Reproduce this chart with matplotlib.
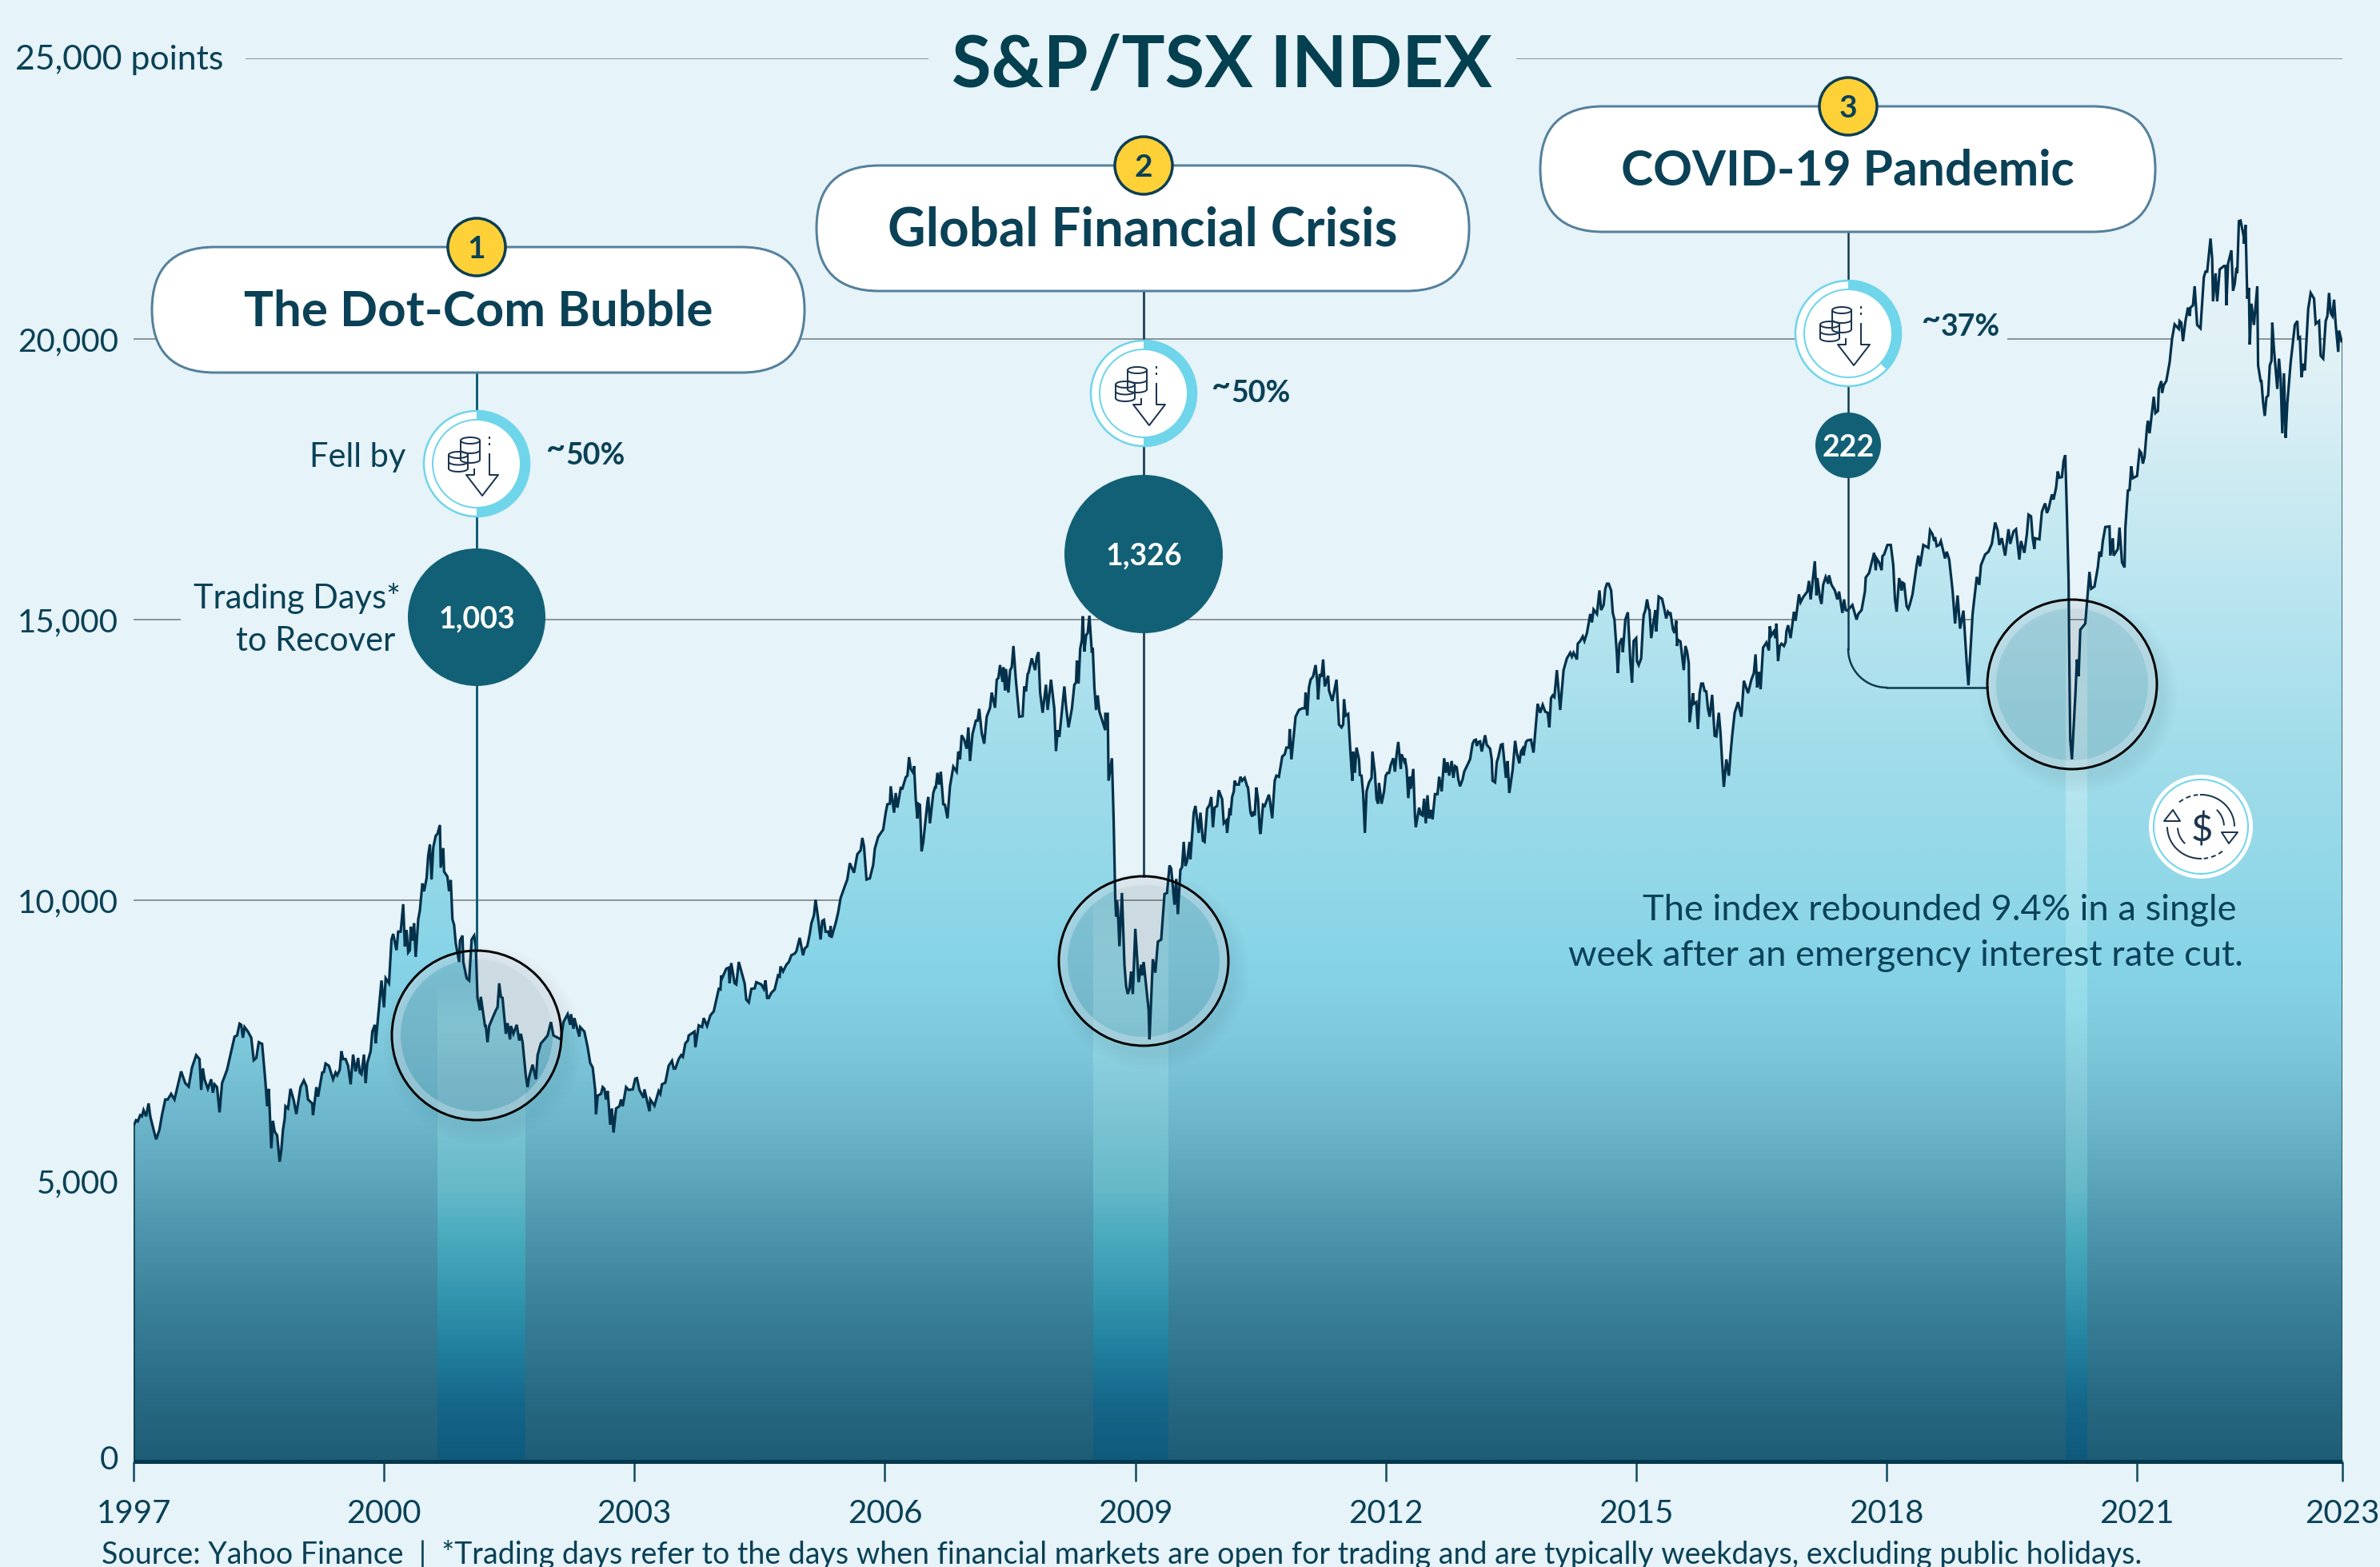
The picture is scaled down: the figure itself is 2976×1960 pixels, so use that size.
"""S&P/TSX index infographic: three crashes and their recovery times."""
import numpy as np
import matplotlib
matplotlib.use("Agg")
import matplotlib.pyplot as plt
from matplotlib.colors import LinearSegmentedColormap, to_rgb
from matplotlib.patches import Circle, FancyBboxPatch, Polygon, Wedge
from matplotlib.transforms import Affine2D, ScaledTranslation

W, H = 2976, 1960
BG = "#e6f3f9"
INK = "#0a4156"
TEAL = "#126075"
CYAN = "#6fd5ea"
NAVY = "#1c3550"

plt.rcParams["font.family"] = ["Lato", "DejaVu Sans"]

# (year, index level)
run_1997_2001 = [
    (1997.00, 5980), (1997.03, 6080), (1997.05, 6060), (1997.08, 6170), (1997.10, 6150), (1997.12, 6260),
    (1997.15, 6150), (1997.18, 6380), (1997.20, 6150), (1997.24, 5910), (1997.27, 5740), (1997.31, 5910),
    (1997.34, 6170), (1997.38, 6450), (1997.41, 6450), (1997.45, 6550), (1997.49, 6450), (1997.52, 6640),
    (1997.57, 6950), (1997.62, 6740), (1997.66, 6680), (1997.70, 7020), (1997.75, 7240), (1997.79, 7170),
    (1997.81, 6620), (1997.83, 7000), (1997.85, 6810), (1997.89, 6640), (1997.93, 6810), (1997.95, 6570),
    (1997.97, 6720), (1998.00, 6670), (1998.03, 6220), (1998.06, 6740), (1998.12, 6980), (1998.16, 7240),
    (1998.21, 7570), (1998.24, 7590), (1998.27, 7800), (1998.29, 7780), (1998.31, 7550), (1998.33, 7740),
    (1998.37, 7660), (1998.41, 7550), (1998.44, 7150), (1998.47, 7190), (1998.50, 7470), (1998.54, 7440),
    (1998.58, 6760), (1998.60, 6330), (1998.62, 6640), (1998.65, 5580), (1998.67, 6070), (1998.69, 5880),
    (1998.72, 5810), (1998.75, 5340), (1998.77, 5550), (1998.79, 5910), (1998.81, 6100), (1998.82, 6330),
    (1998.85, 6290), (1998.88, 6640), (1998.92, 6430), (1998.95, 6190), (1998.98, 6480), (1999.00, 6670),
    (1999.04, 6790), (1999.07, 6690), (1999.09, 6450), (1999.14, 6380), (1999.15, 6170), (1999.19, 6670),
    (1999.21, 6500), (1999.26, 6930), (1999.28, 6940), (1999.30, 7090), (1999.34, 7050), (1999.39, 6810),
    (1999.42, 6930), (1999.44, 6880), (1999.47, 6980), (1999.49, 7310), (1999.51, 7170), (1999.54, 7170),
    (1999.57, 7050), (1999.60, 6720), (1999.63, 7250), (1999.66, 6950), (1999.69, 7190), (1999.71, 6930),
    (1999.73, 6900), (1999.76, 7250), (1999.78, 6740), (1999.80, 7100), (1999.84, 7310), (1999.86, 7660),
    (1999.89, 7780), (1999.90, 7450), (1999.93, 7930), (1999.95, 8260), (1999.97, 8570), (2000.00, 8090),
    (2000.02, 8610), (2000.06, 8520), (2000.09, 9300), (2000.11, 9400), (2000.15, 9110), (2000.17, 9440),
    (2000.20, 9440), (2000.23, 9930), (2000.25, 9180), (2000.27, 9470), (2000.29, 9070), (2000.31, 9110),
    (2000.32, 9530), (2000.34, 9280), (2000.36, 9590), (2000.38, 8990), (2000.41, 9660), (2000.43, 9820),
    (2000.46, 10300), (2000.48, 10160), (2000.51, 10390), (2000.53, 10800), (2000.55, 10990), (2000.57, 10370),
    (2000.59, 10940), (2000.62, 11150), (2000.64, 11180), (2000.67, 11340), (2000.68, 10580), (2000.71, 10930),
    (2000.72, 10510), (2000.76, 10420), (2000.78, 10160), (2000.80, 10360), (2000.82, 9660), (2000.84, 9560),
    (2000.86, 9230), (2000.90, 8900), (2000.91, 9280), (2000.94, 9370), (2000.95, 8900), (2000.99, 8610),
    (2001.02, 8570), (2001.05, 9300), (2001.08, 9370), (2001.10, 9180), (2001.12, 8260), (2001.15, 8040),
    (2001.16, 8280), (2001.21, 7760), (2001.22, 7760), (2001.24, 7470), (2001.26, 7760), (2001.34, 8040),
    (2001.36, 8090), (2001.38, 8520), (2001.40, 8280), (2001.42, 8260), (2001.46, 7620), (2001.48, 7810),
    (2001.51, 7520), (2001.52, 7760), (2001.55, 7620), (2001.59, 7780), (2001.62, 7500), (2001.64, 7620),
    (2001.66, 7470), (2001.70, 6860), (2001.72, 6670), (2001.74, 6860), (2001.78, 7070), (2001.82, 6810),
    (2001.84, 7240), (2001.88, 7450), (2001.91, 7500),
]
run_2002_2005 = [
    (2001.96, 7590), (2002.00, 7830), (2002.03, 7590), (2002.12, 7520), (2002.15, 7830), (2002.20, 7970),
    (2002.23, 7780), (2002.24, 7970), (2002.27, 7710), (2002.28, 7900), (2002.34, 7570), (2002.35, 7740),
    (2002.40, 7660), (2002.44, 7380), (2002.47, 7100), (2002.50, 7020), (2002.53, 6620), (2002.54, 6190),
    (2002.56, 6520), (2002.60, 6550), (2002.62, 6670), (2002.64, 6640), (2002.66, 6450), (2002.68, 6600),
    (2002.71, 6000), (2002.73, 6290), (2002.75, 5860), (2002.78, 6290), (2002.82, 6330), (2002.84, 6450),
    (2002.86, 6330), (2002.90, 6670), (2002.93, 6620), (2002.98, 6630), (2003.01, 6820), (2003.03, 6830),
    (2003.06, 6620), (2003.11, 6480), (2003.12, 6630), (2003.18, 6240), (2003.19, 6450), (2003.24, 6340),
    (2003.29, 6600), (2003.31, 6550), (2003.33, 6720), (2003.37, 6750), (2003.41, 7050), (2003.45, 7140),
    (2003.47, 7000), (2003.49, 7000), (2003.53, 7170), (2003.56, 7240), (2003.58, 7210), (2003.61, 7450),
    (2003.64, 7500), (2003.65, 7590), (2003.72, 7660), (2003.73, 7380), (2003.77, 7770), (2003.81, 7740),
    (2003.83, 7900), (2003.87, 7760), (2003.91, 7950), (2003.95, 8020), (2004.00, 8350), (2004.01, 8420),
    (2004.03, 8410), (2004.04, 8660), (2004.05, 8610), (2004.10, 8780), (2004.13, 8800), (2004.14, 8520),
    (2004.16, 8880), (2004.20, 8520), (2004.22, 8500), (2004.25, 8900), (2004.32, 8520), (2004.34, 8230),
    (2004.37, 8180), (2004.40, 8420), (2004.44, 8430), (2004.46, 8540), (2004.52, 8500), (2004.55, 8420),
    (2004.57, 8570), (2004.59, 8260), (2004.61, 8260), (2004.64, 8350), (2004.68, 8410), (2004.72, 8660),
    (2004.74, 8640), (2004.75, 8820), (2004.78, 8730), (2004.82, 8850), (2004.85, 8900), (2004.88, 9020),
    (2004.92, 9050), (2004.94, 9090), (2004.98, 9330), (2005.02, 9020), (2005.04, 9140), (2005.07, 9180),
    (2005.10, 9400), (2005.12, 9590), (2005.15, 9730), (2005.17, 10010), (2005.20, 9680), (2005.23, 9300),
    (2005.25, 9630), (2005.27, 9650), (2005.29, 9440), (2005.32, 9440), (2005.34, 9350), (2005.35, 9540),
    (2005.36, 9330), (2005.41, 9590), (2005.44, 9780), (2005.47, 10040), (2005.52, 10250), (2005.55, 10370),
    (2005.58, 10660), (2005.63, 10490), (2005.67, 10820), (2005.71, 10890), (2005.73, 11110), (2005.75, 10960),
    (2005.78, 10370), (2005.82, 10390), (2005.86, 10630), (2005.88, 10920), (2005.92, 11130), (2005.98, 11260),
]
run_2006_2009 = [
    (2006.01, 11560), (2006.03, 11710), (2006.06, 11720), (2006.07, 12030), (2006.11, 11560), (2006.13, 11910),
    (2006.15, 11650), (2006.19, 12000), (2006.21, 11990), (2006.25, 12190), (2006.27, 12220), (2006.29, 12550),
    (2006.31, 12340), (2006.34, 12270), (2006.35, 12390), (2006.37, 11800), (2006.39, 11460), (2006.40, 11720),
    (2006.42, 11700), (2006.44, 10870), (2006.46, 11040), (2006.51, 11750), (2006.52, 11840), (2006.54, 11370),
    (2006.58, 11910), (2006.60, 12010), (2006.61, 12010), (2006.63, 12270), (2006.65, 12060), (2006.67, 12290),
    (2006.70, 11710), (2006.72, 11700), (2006.75, 11460), (2006.78, 12030), (2006.82, 12380), (2006.86, 12290),
    (2006.88, 12650), (2006.90, 12510), (2006.92, 12940), (2006.95, 12860), (2006.98, 12700), (2007.00, 13080),
    (2007.02, 12480), (2007.05, 12960), (2007.09, 13200), (2007.11, 13200), (2007.13, 13410), (2007.16, 12980),
    (2007.19, 12790), (2007.22, 13270), (2007.26, 13430), (2007.28, 13700), (2007.32, 13430), (2007.34, 13930),
    (2007.36, 13960), (2007.38, 14190), (2007.41, 13890), (2007.42, 14150), (2007.44, 13740), (2007.45, 14120),
    (2007.48, 13700), (2007.50, 14100), (2007.52, 14150), (2007.54, 14530), (2007.57, 13910), (2007.61, 13270),
    (2007.65, 13280), (2007.67, 13810), (2007.69, 13720), (2007.71, 14030), (2007.72, 14050), (2007.76, 14310),
    (2007.80, 14100), (2007.82, 14340), (2007.84, 14420), (2007.86, 13700), (2007.89, 13340), (2007.93, 13840),
    (2007.95, 13390), (2007.99, 13930), (2008.03, 13410), (2008.05, 12660), (2008.07, 13030), (2008.09, 12910),
    (2008.15, 13810), (2008.17, 13460), (2008.20, 13080), (2008.24, 13410), (2008.27, 13840), (2008.29, 13880),
    (2008.30, 14270), (2008.32, 13860), (2008.34, 14480), (2008.36, 14640), (2008.37, 15060), (2008.39, 14430),
    (2008.41, 14720), (2008.43, 14760), (2008.45, 15070), (2008.48, 14410), (2008.49, 14500), (2008.51, 13790),
    (2008.53, 13390), (2008.55, 13650), (2008.57, 13360), (2008.64, 13030), (2008.64, 13320), (2008.67, 13320),
    (2008.68, 12130), (2008.72, 12530), (2008.74, 11460), (2008.76, 10040), (2008.77, 9710), (2008.78, 9990),
    (2008.79, 9850), (2008.81, 9180), (2008.84, 10130), (2008.87, 8850), (2008.89, 8470), (2008.91, 8330),
    (2008.93, 8420), (2008.95, 8730), (2008.97, 8330), (2009.00, 9490), (2009.04, 8540), (2009.07, 8850),
    (2009.08, 8660), (2009.10, 8900), (2009.13, 8470), (2009.16, 8040), (2009.17, 7520), (2009.21, 8950),
    (2009.24, 8710), (2009.27, 9260), (2009.31, 9300), (2009.35, 10110), (2009.38, 10130), (2009.41, 10620),
    (2009.43, 10560), (2009.47, 9920), (2009.49, 10380), (2009.51, 9750), (2009.54, 10540), (2009.56, 10590),
    (2009.58, 11040), (2009.60, 10610), (2009.62, 10700), (2009.65, 11040), (2009.66, 10730), (2009.70, 11560),
    (2009.72, 11680), (2009.76, 11200), (2009.78, 11560), (2009.81, 11060), (2009.83, 11040), (2009.86, 11630),
    (2009.89, 11700), (2009.91, 11840), (2009.93, 11300), (2009.95, 11650),
]
run_2010_2014 = [
    (2009.98, 11680), (2010.00, 11960), (2010.04, 11800), (2010.06, 11370), (2010.09, 11420), (2010.10, 11200),
    (2010.13, 11640), (2010.14, 11510), (2010.16, 11840), (2010.18, 11940), (2010.19, 12130), (2010.21, 12060),
    (2010.24, 12060), (2010.26, 12200), (2010.28, 12130), (2010.31, 12180), (2010.34, 12030), (2010.35, 12010),
    (2010.38, 11560), (2010.40, 11490), (2010.41, 11580), (2010.43, 11510), (2010.45, 12010), (2010.47, 11800),
    (2010.49, 11270), (2010.50, 11180), (2010.53, 11700), (2010.55, 11680), (2010.60, 11880), (2010.61, 11800),
    (2010.64, 11460), (2010.67, 12130), (2010.69, 12220), (2010.72, 12200), (2010.76, 12560), (2010.79, 12600),
    (2010.81, 12720), (2010.84, 12720), (2010.85, 13050), (2010.87, 12510), (2010.92, 13270), (2010.96, 13390),
    (2011.00, 13420), (2011.03, 13420), (2011.04, 13700), (2011.06, 13290), (2011.08, 13790), (2011.10, 13930),
    (2011.13, 13990), (2011.16, 14190), (2011.18, 13880), (2011.19, 13580), (2011.21, 14030), (2011.23, 13980),
    (2011.25, 14290), (2011.27, 13810), (2011.31, 14000), (2011.32, 13740), (2011.36, 13550), (2011.41, 13930),
    (2011.44, 13130), (2011.47, 13080), (2011.49, 13130), (2011.50, 13580), (2011.52, 13290), (2011.55, 13320),
    (2011.58, 12560), (2011.60, 12130), (2011.61, 12650), (2011.63, 12270), (2011.65, 12720), (2011.68, 12510),
    (2011.69, 12230), (2011.71, 12220), (2011.73, 11890), (2011.75, 11200), (2011.77, 11940), (2011.80, 12100),
    (2011.83, 12180), (2011.84, 12650), (2011.87, 12270), (2011.89, 11800), (2011.91, 11720), (2011.92, 12090),
    (2011.95, 11720), (2011.98, 11940), (2012.00, 12220), (2012.02, 12270), (2012.04, 12270), (2012.06, 12410),
    (2012.09, 12530), (2012.11, 12290), (2012.13, 12600), (2012.15, 12820), (2012.18, 12340), (2012.19, 12600),
    (2012.22, 12480), (2012.23, 12530), (2012.25, 12340), (2012.27, 11820), (2012.29, 12200), (2012.30, 11990),
    (2012.33, 12340), (2012.35, 11510), (2012.36, 11300), (2012.40, 11650), (2012.42, 11530), (2012.44, 11510),
    (2012.46, 11810), (2012.48, 11370), (2012.50, 11870), (2012.52, 11460), (2012.54, 11610), (2012.56, 11440),
    (2012.59, 11890), (2012.62, 11890), (2012.64, 12200), (2012.67, 11940), (2012.70, 12530), (2012.72, 12270),
    (2012.74, 12460), (2012.76, 12220), (2012.79, 12480), (2012.81, 12180), (2012.83, 12390), (2012.85, 12370),
    (2012.87, 12150), (2012.89, 12030), (2012.92, 12150), (2012.94, 12290), (2013.01, 12510), (2013.04, 12790),
    (2013.06, 12850), (2013.08, 12860), (2013.09, 12750), (2013.11, 12820), (2013.13, 12830), (2013.15, 12650),
    (2013.19, 12940), (2013.21, 12770), (2013.25, 12700), (2013.27, 12510), (2013.28, 12130), (2013.31, 12100),
    (2013.33, 12460), (2013.35, 12560), (2013.38, 12770), (2013.40, 12780), (2013.44, 12180), (2013.46, 12480),
    (2013.48, 11910), (2013.52, 12320), (2013.55, 12840), (2013.57, 12630), (2013.60, 12440), (2013.62, 12650),
    (2013.64, 12700), (2013.65, 12580), (2013.68, 12820), (2013.70, 12850), (2013.74, 12860), (2013.77, 12630),
    (2013.82, 13500), (2013.85, 13340), (2013.88, 13480), (2013.91, 13360), (2013.94, 13340), (2013.96, 13080),
    (2013.98, 13600), (2014.00, 13650), (2014.02, 13620), (2014.05, 14100), (2014.09, 13390), (2014.13, 14100),
    (2014.17, 14310),
]
run_2014_2018 = [
    (2014.21, 14410), (2014.23, 14340), (2014.25, 14410), (2014.29, 14290), (2014.30, 14570), (2014.33, 14620),
    (2014.36, 14700), (2014.38, 14620), (2014.41, 14760), (2014.45, 15100), (2014.47, 14950), (2014.49, 15180),
    (2014.53, 15100), (2014.56, 15520), (2014.58, 15170), (2014.61, 15260), (2014.63, 15550), (2014.65, 15640),
    (2014.67, 15640), (2014.70, 15520), (2014.72, 15120), (2014.74, 15000), (2014.77, 14360), (2014.78, 14050),
    (2014.80, 14570), (2014.83, 14670), (2014.84, 14420), (2014.87, 15000), (2014.90, 15130), (2014.93, 14260),
    (2014.95, 13880), (2014.97, 14620), (2015.00, 14670), (2015.01, 14260), (2015.03, 14190), (2015.06, 14310),
    (2015.08, 14880), (2015.09, 15080), (2015.11, 15170), (2015.13, 15360), (2015.15, 15190), (2015.16, 15170),
    (2015.18, 14670), (2015.21, 14980), (2015.23, 15170), (2015.24, 14790), (2015.27, 15410), (2015.31, 15370),
    (2015.34, 15170), (2015.36, 15020), (2015.38, 15140), (2015.40, 15100), (2015.41, 15130), (2015.44, 14830),
    (2015.46, 14760), (2015.48, 14980), (2015.49, 14530), (2015.50, 14640), (2015.53, 14610), (2015.57, 14100),
    (2015.59, 14530), (2015.61, 14430), (2015.63, 14220), (2015.64, 13170), (2015.68, 13690), (2015.69, 13500),
    (2015.72, 13530), (2015.74, 13050), (2015.76, 13690), (2015.78, 13860), (2015.80, 13860), (2015.82, 13730),
    (2015.84, 13720), (2015.86, 13410), (2015.88, 13270), (2015.91, 13660), (2015.94, 12930), (2015.96, 12920),
    (2015.99, 13340), (2016.01, 12980), (2016.03, 12460), (2016.05, 12020), (2016.08, 12510), (2016.11, 12220),
    (2016.13, 12600), (2016.15, 12930), (2016.18, 13340), (2016.22, 13530), (2016.26, 13270), (2016.29, 13910),
    (2016.34, 13690), (2016.38, 13930), (2016.41, 14050), (2016.43, 14380), (2016.45, 13790), (2016.47, 14070),
    (2016.49, 13760), (2016.52, 14500), (2016.56, 14590), (2016.59, 14450), (2016.60, 14880), (2016.62, 14720),
    (2016.65, 14790), (2016.67, 14670), (2016.68, 14930), (2016.70, 14260), (2016.72, 14530), (2016.74, 14570),
    (2016.77, 14530), (2016.79, 14600), (2016.80, 14790), (2016.82, 14900), (2016.85, 14670), (2016.89, 15140),
    (2016.91, 14980), (2016.95, 15450), (2016.97, 15310), (2017.00, 15400), (2017.05, 15500), (2017.07, 15690),
    (2017.09, 15360), (2017.14, 16040), (2017.16, 15430), (2017.17, 15740), (2017.20, 15400), (2017.22, 15280),
    (2017.24, 15620), (2017.27, 15760), (2017.30, 15640), (2017.31, 15790), (2017.34, 15620), (2017.38, 15520),
    (2017.41, 15360), (2017.43, 15500), (2017.47, 15120), (2017.49, 15360), (2017.51, 15170), (2017.53, 15160),
    (2017.59, 15260), (2017.64, 15000), (2017.66, 15100), (2017.70, 15170), (2017.74, 15500), (2017.75, 15750),
    (2017.79, 15830), (2017.85, 16190), (2017.87, 15880), (2017.88, 16090), (2017.91, 16020), (2017.94, 15880),
    (2017.95, 16130), (2017.97, 16160), (2018.01, 16330), (2018.05, 16330), (2018.08, 15970), (2018.10, 15360),
    (2018.12, 15140), (2018.15, 15740), (2018.18, 15520), (2018.19, 15660), (2018.21, 15640), (2018.24, 15240),
    (2018.26, 15190), (2018.28, 15280), (2018.31, 15450), (2018.36, 15970), (2018.38, 16140),
]
run_2018_2023 = [
    (2018.40, 15950), (2018.44, 16330), (2018.50, 16280), (2018.52, 16590), (2018.55, 16520), (2018.57, 16400),
    (2018.58, 16470), (2018.60, 16310), (2018.63, 16330), (2018.65, 16400), (2018.70, 16090), (2018.72, 16210),
    (2018.75, 16070), (2018.79, 15520), (2018.82, 14930), (2018.85, 15430), (2018.88, 14840), (2018.92, 15160),
    (2018.96, 14220), (2018.98, 13830), (2019.03, 15100), (2019.08, 15760), (2019.11, 15620), (2019.13, 15970),
    (2019.18, 16160), (2019.22, 16210), (2019.26, 16350), (2019.30, 16730), (2019.33, 16590), (2019.35, 16330),
    (2019.38, 16450), (2019.42, 16140), (2019.46, 16610), (2019.48, 16350), (2019.52, 16570), (2019.55, 16610),
    (2019.59, 16070), (2019.61, 16400), (2019.65, 16190), (2019.68, 16520), (2019.70, 16870), (2019.73, 16840),
    (2019.75, 16450), (2019.77, 16260), (2019.78, 16450), (2019.83, 16430), (2019.86, 16920), (2019.89, 17040),
    (2019.90, 17070), (2019.92, 16900), (2019.94, 16970), (2019.98, 17230), (2020.00, 17140), (2020.03, 17350),
    (2020.05, 17640), (2020.07, 17530), (2020.10, 17540), (2020.12, 17830), (2020.14, 17930), (2020.16, 16880),
    (2020.18, 15680), (2020.19, 14070), (2020.20, 12860), (2020.22, 12510), (2020.26, 13630), (2020.28, 14290),
    (2020.30, 13990), (2020.32, 14820), (2020.38, 14930), (2020.43, 15850), (2020.45, 15550), (2020.49, 15590),
    (2020.53, 15930), (2020.55, 16210), (2020.57, 16120), (2020.59, 16400), (2020.62, 16650), (2020.67, 16660),
    (2020.68, 16140), (2020.71, 16450), (2020.72, 16140), (2020.77, 16260), (2020.79, 16640), (2020.82, 16020),
    (2020.85, 15930), (2020.86, 16640), (2020.89, 17300), (2020.91, 17310), (2020.93, 17730), (2020.95, 17520),
    (2021.00, 17560), (2021.03, 18010), (2021.05, 17970), (2021.07, 17780), (2021.09, 17900), (2021.12, 18440),
    (2021.13, 18540), (2021.15, 18320), (2021.20, 18970), (2021.22, 18680), (2021.25, 18720), (2021.26, 19110),
    (2021.29, 19250), (2021.30, 19040), (2021.32, 19180), (2021.35, 19250), (2021.39, 19580), (2021.42, 20010),
    (2021.45, 20260), (2021.50, 20180), (2021.51, 20320), (2021.53, 20290), (2021.55, 19960), (2021.58, 20320),
    (2021.61, 20560), (2021.63, 20410), (2021.64, 20560), (2021.67, 20600), (2021.69, 20940), (2021.72, 20250),
    (2021.76, 20190), (2021.80, 21100), (2021.82, 21200), (2021.84, 21200), (2021.88, 21790), (2021.90, 21430),
    (2021.91, 20670), (2021.94, 21170), (2021.96, 20670), (2021.99, 21240), (2022.04, 21300), (2022.06, 21300),
    (2022.07, 20600), (2022.09, 21340), (2022.13, 21580), (2022.15, 20860), (2022.17, 20980), (2022.19, 21270),
    (2022.20, 21170), (2022.22, 22100), (2022.24, 22110), (2022.28, 21810), (2022.28, 21700), (2022.30, 22030),
    (2022.32, 20720), (2022.34, 20910), (2022.35, 19900), (2022.37, 20630), (2022.40, 20250), (2022.44, 20940),
    (2022.45, 19530), (2022.48, 19250), (2022.49, 19250), (2022.51, 18870), (2022.53, 18630), (2022.55, 18960),
    (2022.57, 18990), (2022.59, 19530), (2022.61, 19610), (2022.62, 20290), (2022.64, 19820), (2022.68, 19110),
    (2022.70, 19650), (2022.72, 19300), (2022.74, 18320), (2022.76, 19390), (2022.78, 18240), (2022.80, 18850),
    (2022.84, 19580), (2022.89, 20250), (2022.92, 20320), (2022.93, 20010), (2022.95, 20030), (2022.97, 19320),
    (2022.99, 19560), (2023.01, 19440), (2023.05, 20530), (2023.08, 20820), (2023.12, 20720), (2023.14, 20270),
    (2023.18, 20320), (2023.20, 19700), (2023.23, 19650), (2023.26, 20320), (2023.28, 20410), (2023.30, 20820),
    (2023.32, 20460), (2023.34, 20410), (2023.36, 20700), (2023.38, 20250), (2023.41, 19770), (2023.42, 20150),
    (2023.45, 19960),
]
points = run_1997_2001 + run_2002_2005 + run_2006_2009 + run_2010_2014 + run_2014_2018 + run_2018_2023
years = [p[0] for p in points]
levels = [p[1] for p in points]

x_end = 2023.46
year_ticks = [1997, 2000, 2003, 2006, 2009, 2012, 2015, 2018, 2021, x_end]
year_labels = ["1997", "2000", "2003", "2006", "2009", "2012", "2015", "2018", "2021", "2023"]
level_ticks = [0, 5000, 10000, 15000, 20000]
level_labels = ["0", "5,000", "10,000", "15,000", "20,000"]

# crash windows (start year, end year, level where the strip fades out)
crash_bands = [(2000.64, 2001.69, 8600), (2008.50, 2009.40, 10400), (2020.15, 2020.40, 15400)]

# gridline pieces, broken where a label sits
grid_pieces = [
    (25000, [(1998.34, 2006.52), (2013.56, x_end)]),
    (20000, [(1997, 2018.10), (2019.45, x_end)]),
    (15000, [(1997, 1997.57), (2001.11, x_end)]),
    (10000, [(1997, x_end)]),
    (5000, [(1997, x_end)]),
]

area_stops = [(0, "#1e5d75"), (1500, "#2c6f88"), (3000, "#3e849d"), (4700, "#57a0b6"), (6000, "#6cb5ca"),
              (7500, "#7fc9dd"), (8800, "#86d3e7"), (10000, "#8fd7e8"), (12500, "#a0dcea"), (15000, "#b5e4ef"),
              (17500, "#cdebf2"), (19500, "#e0f1f6"), (22200, "#e6f3f9")]
band_stops = [(0, "#0f5a7c"), (1000, "#15678a"), (2000, "#22809f"), (3000, "#3697b0"), (4000, "#4aabbe"),
              (4900, "#68bac9"), (6500, "#82c8d8"), (8000, "#93dbe9"), (10000, "#a3e0ec"), (13000, "#c0e8f1"),
              (15500, "#d3eef5"), (22200, "#e6f3f9")]

crises = [
    {"title": "The Dot-Com Bubble", "size": 22.3, "n": "1", "cx": 596, "pill": (190, 309, 816, 157), "pct": 0.5,
     "fell": "50%", "fell_xy": (683, 567), "icon_y": 580, "days": "1,003", "days_y": 772, "days_r": 86},
    {"title": "Global Financial Crisis", "size": 23.6, "n": "2", "cx": 1430, "pill": (1021, 207, 816, 157), "pct": 0.5,
     "fell": "50%", "fell_xy": (1515, 489), "icon_y": 492, "days": "1,326", "days_y": 693, "days_r": 99},
    {"title": "COVID-19 Pandemic", "size": 21.8, "n": "3", "cx": 2311, "pill": (1926, 133, 769, 157), "pct": 0.37,
     "fell": "37%", "fell_xy": (2403, 406), "icon_y": 417, "days": "222", "days_y": 557, "days_r": 41},
]
lenses = [(596, 1295), (1430, 1202), (2591, 856)]

fig = plt.figure(figsize=(W / 200, H / 200), dpi=200, facecolor=BG)
ax = fig.add_axes([167 / W, 1 - 1828 / H, (2929 - 167) / W, (1828 - 73) / H])
ax.set_facecolor(BG)
ax.set_xlim(1997, x_end)
ax.set_ylim(0, 25000)
ax.set_autoscale_on(False)
for s in ax.spines.values():
    s.set_visible(False)

# pixel overlay coordinates, y pointing down
px = Affine2D().scale(1 / W, -1 / H).translate(0, 1) + fig.transFigure


def pw(n):
    return n * 72 / 200


def gradient(stops, extent, ymax, zorder, clip, fade=0.0):
    top = stops[-1][0]
    cm = LinearSegmentedColormap.from_list("g", [(v / top, to_rgb(c)) for v, c in stops])
    rgba = cm(np.linspace(ymax / top, 0, 900).reshape(-1, 1))
    if fade:
        # strips melt into the area at their top end
        ramp = np.clip(np.linspace(0, 1, 900) / fade, 0, 1)
        rgba[:, 0, 3] = ramp
    im = ax.imshow(rgba, extent=(extent[0], extent[1], 0, ymax), aspect="auto", zorder=zorder,
                   interpolation="bilinear")
    im.set_clip_path(clip)
    ax.set_xlim(1997, x_end)
    ax.set_ylim(0, 25000)


for level, pieces in grid_pieces:
    for a, b in pieces:
        ax.hlines(level, a, b, color="#8b9599", lw=pw(2), zorder=1)

outline = [(years[0], 0)] + points + [(x_end, levels[-1]), (x_end, 0)]
area_clip = Polygon(outline, closed=True, transform=ax.transData, fc="none", ec="none")
ax.add_patch(area_clip)
gradient(area_stops, (1997, x_end), 22200, 2, area_clip)
for b0, b1, b_top in crash_bands:
    gradient(band_stops, (b0, b1), b_top, 3, area_clip, fade=0.1)

# lens shadows and lenses
for cx, cy in lenses:
    for r in range(124, 104, -3):
        ax.add_patch(Circle((cx + 8, cy + 12), r, transform=px, fc="#1b3c50", ec="none", alpha=0.009,
                            zorder=4, clip_on=False))
    ax.add_patch(Wedge((cx, cy), 106, 0, 360, width=11, transform=px, fc=(212 / 255, 222 / 255, 230 / 255, 0.36),
                       ec="none", zorder=5, clip_on=False))
    ax.add_patch(Circle((cx, cy), 95, transform=px, fc=(27 / 255, 70 / 255, 90 / 255, 0.06), ec="none",
                        zorder=5, clip_on=False))

ax.plot(years, levels, color="#03304a", lw=pw(3.2), zorder=6, solid_joinstyle="miter")
ax.plot([x_end, x_end], [0, levels[-1]], color="#0b3f55", lw=pw(2.5), zorder=6)
ax.plot([1997, 1997], [0, levels[0]], color="#0b3f55", lw=pw(2.5), zorder=6)
ax.plot([1997, x_end], [0, 0], color="#04384e", lw=pw(5), zorder=6, clip_on=False, solid_capstyle="butt")

ax.set_xticks(year_ticks, year_labels)
ax.set_yticks(level_ticks, level_labels)
ax.tick_params(axis="x", length=pw(25), width=pw(2.5), color="#0f4a60", labelcolor=INK, labelsize=14.5, pad=pw(22))
ax.tick_params(axis="y", length=0, labelcolor=INK, labelsize=14.5, pad=pw(19))
for lab in ax.get_xticklabels() + ax.get_yticklabels():
    lab.set_zorder(9)
zero_label = ax.get_yticklabels()[0]
zero_label.set_transform(zero_label.get_transform() + ScaledTranslation(0, 5 / 200, fig.dpi_scale_trans))


def put(x, y, s, size, weight="normal", color=INK, ha="center", z=12):
    ax.text(x, y + size * 0.2, s, transform=px, fontsize=size, fontweight=weight, color=color, ha=ha, va="center",
            zorder=z, clip_on=False)


def pline(xs, ys, color=NAVY, lw=2, z=11, **kw):
    ax.plot(xs, ys, transform=px, color=color, lw=pw(lw), zorder=z, clip_on=False, **kw)


def coin(x, y, h):
    # little stack of coins in an icon
    t = np.linspace(0, 2 * np.pi, 40)
    pline(x + 12 * np.cos(t), y + 4 * np.sin(t))
    b = np.linspace(0, np.pi, 20)
    for dy in (h / 2, h):
        pline(x + 12 * np.cos(b), y + dy + 4 * np.sin(b))
    pline([x - 12, x - 12], [y, y + h])
    pline([x + 12, x + 12], [y, y + h])


def drop_icon(cx, cy, pct):
    ax.add_patch(Circle((cx, cy), 66, transform=px, fc="white", ec=CYAN, lw=pw(2.5), zorder=10, clip_on=False))
    ax.add_patch(Wedge((cx, cy), 67, -90, -90 + 360 * pct, width=12, transform=px, fc=CYAN, ec="none",
                       zorder=10, clip_on=False))
    ax.add_patch(Circle((cx, cy), 55, transform=px, fc="white", ec=CYAN, lw=pw(2), zorder=10, clip_on=False))
    coin(cx - 8, cy - 29, 24)
    coin(cx - 23, cy - 11, 17)
    pline(cx + np.array([16, 16, 27, 7, -13, -3, -3]), cy + np.array([-12, 14, 14, 40, 14, 14, 7]))
    pline([cx + 16, cx + 16], [cy - 34, cy - 20], ls=(0, (1.5, 2.5)))


# gridline-level text and title
put(19, 72, "25,000 points", 15.4, ha="left")
put(1528, 76, "S&P/TSX INDEX", 32.5, "bold", color="#04404f")

for c in crises:
    cx = c["cx"]
    x, y, w, h = c["pill"]
    if c["n"] == "3":
        pline([cx, cx], [y + h, 812], color="#0f3a50", lw=2.5, z=7)
        t = np.linspace(np.pi, np.pi / 2, 20)
        pline(cx + 48 + 48 * np.cos(t), 812 + 48 * np.sin(t), color="#0f3a50", lw=2.5, z=7)
        pline([cx + 48, 2485], [860, 860], color="#0f3a50", lw=2.5, z=7)
    else:
        end = lenses[int(c["n"]) - 1][1] - 106
        pline([cx, cx], [y + h, end], color=TEAL if c["n"] == "1" else "#2a4a60", lw=3, z=7)
    ax.add_patch(FancyBboxPatch((x + h / 2, y + h / 2), w - h, 0.01, boxstyle=f"round,pad={h / 2},rounding_size={h / 2}",
                                transform=px, fc="white", ec="#54809c", lw=pw(3), zorder=9, clip_on=False))
    put(x + w / 2, y + h / 2 - 2, c["title"], c["size"], "bold")
    ax.add_patch(Circle((cx, y), 36, transform=px, fc="#fed139", ec="#0d3f52", lw=pw(3.5), zorder=10, clip_on=False))
    put(cx, y, c["n"], 14, "bold")
    drop_icon(cx, c["icon_y"], c["pct"])
    fx, fy = c["fell_xy"]
    put(fx, fy - 9, "~", 15, "bold", ha="left")
    put(fx + 24, fy, c["fell"], 13.5, "bold", ha="left")
    ax.add_patch(Circle((cx, c["days_y"]), c["days_r"], transform=px, fc=TEAL, ec="none", zorder=10, clip_on=False))
    put(cx, c["days_y"], c["days"], 13.5, "bold", color="white")

for cx, cy in lenses:
    ax.add_patch(Circle((cx, cy), 106, transform=px, fc="none", ec="#050505", lw=pw(3), zorder=8, clip_on=False))

put(507, 569, "Fell by", 15, ha="right")
put(501, 745, "Trading Days*", 15, ha="right")
put(494, 799, "to Recover", 15, ha="right")

# rebound note with its dollar badge
put(2796, 1135, "The index rebounded 9.4% in a single", 16.3, ha="right")
put(2805, 1192, "week after an emergency interest rate cut.", 16.3, ha="right")
dx, dy = 2752, 1034
ax.add_patch(Circle((dx, dy), 65, transform=px, fc="white", ec="none", zorder=10, clip_on=False))
ax.add_patch(Circle((dx, dy), 59, transform=px, fc="white", ec=CYAN, lw=pw(2), zorder=10, clip_on=False))
put(dx + 1, dy + 1, "$", 17, color=NAVY)
for sign in (1, -1):
    t = np.radians(np.linspace(-90, -2, 30))
    pline(dx + sign * 42 * np.cos(t), dy + sign * 40 * np.sin(t))
    t = np.radians(np.linspace(-130, -95, 12))
    pline(dx + sign * 42 * np.cos(t), dy + sign * 40 * np.sin(t), ls=(0, (3, 2)))
    t = np.radians(np.linspace(-45, -5, 12))
    pline(dx + sign * 29 * np.cos(t), dy + sign * 29 * np.sin(t))
    pline(dx + sign * np.array([27, 46, 35, 26, 32]), dy + sign * np.array([4, 4, 18, 4, 4]) + (3 if sign > 0 else -3))

put(127, 1942, "Source: Yahoo Finance  |  *Trading days refer to the days when financial markets are open for trading "
    "and are typically weekdays, excluding public holidays.", 13.5, ha="left")

fig.savefig("out.png", dpi=200, facecolor=BG)
